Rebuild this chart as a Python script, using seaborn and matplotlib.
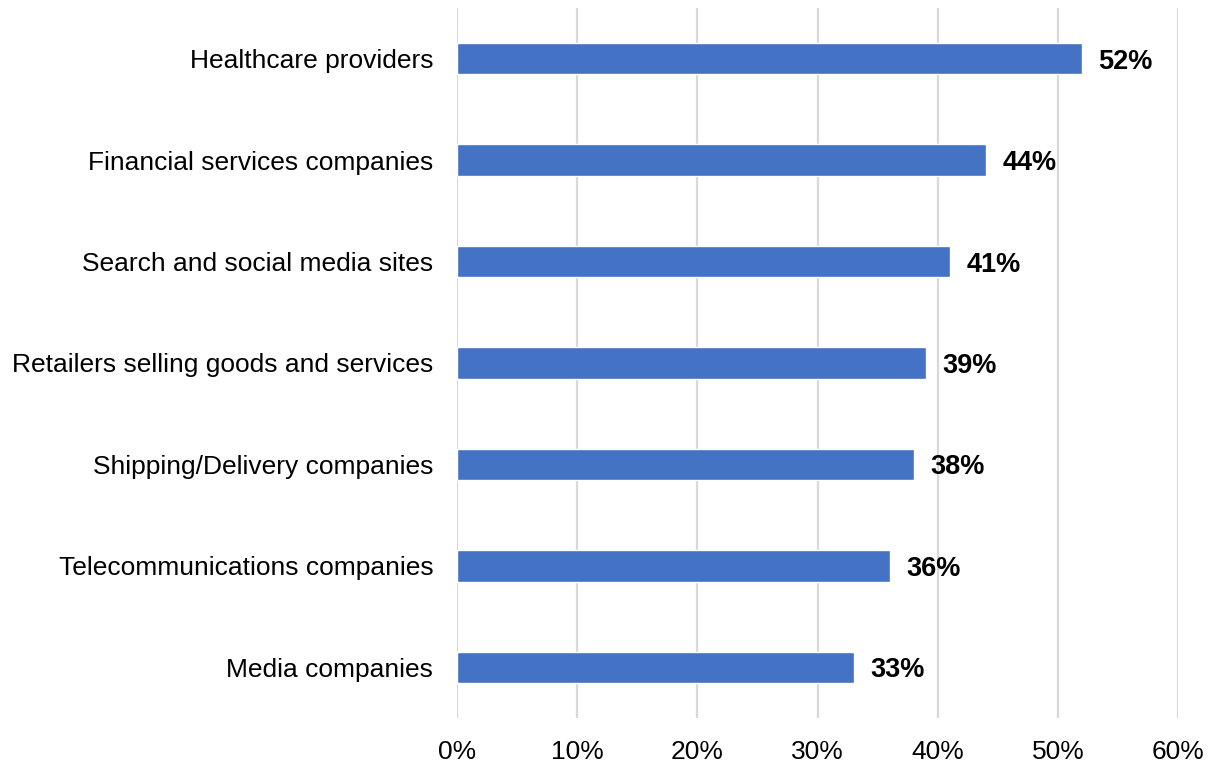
import matplotlib
matplotlib.use("Agg")
import matplotlib.pyplot as plt
import seaborn as sns
import pandas as pd
from matplotlib.ticker import FuncFormatter

categories = [
    "Healthcare providers",
    "Financial services companies",
    "Search and social media sites",
    "Retailers selling goods and services",
    "Shipping/Delivery companies",
    "Telecommunications companies",
    "Media companies",
]
values = [52, 44, 41, 39, 38, 36, 33]
x_ticks = [0, 10, 20, 30, 40, 50, 60]

df = pd.DataFrame({"category": categories, "value": values})

sns.set_theme(style="white")
plt.rcParams["font.family"] = ["Liberation Sans", "DejaVu Sans"]

fig = plt.figure(figsize=(12.17, 7.67), dpi=100)
ax = fig.add_axes([0.3755, 0.0639, 0.5925, 0.9257])

sns.barplot(data=df, x="value", y="category", orient="h", color="#4472C4",
            saturation=1, width=0.31, ax=ax)

ax.set_xlim(0, 60)
ax.set_ylim(6.5, -0.5)
ax.set_xticks(x_ticks)
ax.xaxis.set_major_formatter(FuncFormatter(lambda v, _: f"{v:.0f}%"))
ax.grid(axis="x", color="#d9d9d9", linewidth=1.6)
ax.set_axisbelow(True)
for s in ax.spines.values():
    s.set_visible(False)
ax.set_xlabel("")
ax.set_ylabel("")
ax.tick_params(axis="x", labelsize=19, pad=16, length=0, colors="black")
ax.tick_params(axis="y", labelsize=19, pad=17, length=0, colors="black")

for i, v in enumerate(values):
    ax.annotate(f"{v}%", xy=(v, i), xytext=(12, 0), textcoords="offset points",
                va="center_baseline", ha="left", fontsize=19.5,
                fontweight="bold", color="black")

fig.savefig("out.png", dpi=100, facecolor="white")
